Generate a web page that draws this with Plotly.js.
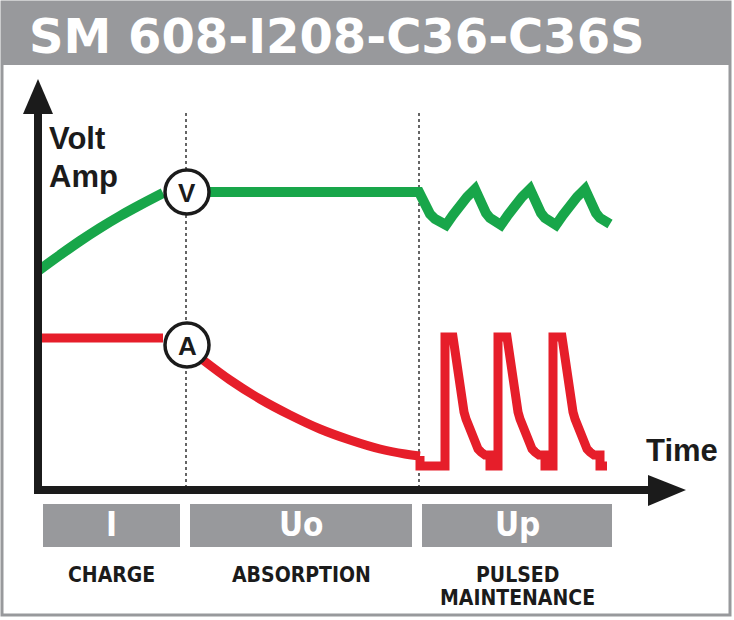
<!DOCTYPE html>
<html>
<head>
<meta charset="utf-8">
<script src="https://cdn.plot.ly/plotly-3.0.1.min.js"></script>
<style>html,body{margin:0;padding:0;background:#fff;}#chart{width:734px;height:620px;}</style>
</head>
<body>
<div id="chart"></div>
<script>
// ---- Data (diagram units: x = time position, y = level) ----
const titleText = "SM 608-I208-C36-C36S";
const phaseCodes = ["I", "Uo", "Up"];
const phaseNames = [["CHARGE"], ["ABSORPTION"], ["PULSED", "MAINTENANCE"]];
const phaseStart = [43, 190, 422];
const phaseEnd = [180, 412, 612];
const phaseBoundaries = [186, 419];

// Voltage curve (green)
const voltChargeTime = [38, 60, 80, 100, 120, 140, 163];
const voltChargeLevel = [271, 255, 241, 228, 216, 205, 193];
const voltHoldTime = [209, 419, 422, 426, 430, 435, 440, 446, 453, 460, 467, 475,
  478, 482, 486, 490, 495, 501, 508, 515, 522, 530,
  533, 537, 541, 545, 550, 556, 563, 570, 577, 585,
  588, 592, 596, 600, 605, 610];
const voltHoldLevel = [192, 192, 198, 207, 214, 219, 223, 225, 215, 205, 197, 189,
  197, 206, 213, 218, 222, 225, 215, 205, 197, 189,
  197, 206, 213, 218, 222, 225, 215, 205, 197, 189,
  197, 206, 213, 218, 221, 224];

// Current curve (red)
const ampChargeTime = [38, 163];
const ampChargeLevel = [338, 338];
const ampAbsorbTime = [203, 230, 260, 290, 320, 350, 380, 405, 420];
const ampAbsorbLevel = [360, 380, 399, 415, 429, 440, 449, 454, 456];
const ampPulseTime = [420, 420, 445, 445, 453,
  454, 456, 458, 460, 462, 464, 466, 468, 471, 474, 478, 481, 485, 490, 490, 498, 498, 507,
  508, 510, 512, 514, 516, 518, 520, 522, 525, 528, 532, 535, 539, 545, 545, 553, 553, 562,
  563, 565, 567, 569, 571, 573, 575, 577, 580, 583, 587, 590, 594, 600, 600, 607];
const ampPulseLevel = [456, 466, 466, 337, 337,
  345, 360, 378, 392, 403, 412, 419, 425, 434, 442, 449, 452, 455, 455, 466, 466, 337, 337,
  345, 360, 378, 392, 403, 412, 419, 425, 434, 442, 449, 452, 455, 455, 466, 466, 337, 337,
  345, 360, 378, 392, 403, 412, 419, 425, 434, 442, 449, 452, 455, 455, 466, 466];

const markerV = {x: 187, y: 192, label: "V"};
const markerA = {x: 187, y: 345, label: "A"};

// ---- Styles ----
const GREEN = "#18a64a";
const RED = "#e61e2a";
const GRAY = "#98999c";
const INK = "#1b1b1b";

function line(x, y, color, width, shape) {
  return {x: x, y: y, type: "scatter", mode: "lines",
    line: {color: color, width: width, shape: shape || "linear", smoothing: 1},
    hoverinfo: "skip", showlegend: false};
}
const traces = [
  line(voltChargeTime, voltChargeLevel, GREEN, 10, "spline"),
  line(voltHoldTime, voltHoldLevel, GREEN, 10),
  line(ampChargeTime, ampChargeLevel, RED, 9),
  line(ampAbsorbTime, ampAbsorbLevel, RED, 9, "spline"),
  line(ampPulseTime, ampPulseLevel, RED, 9)
];

const shapes = [];
shapes.push({type: "rect", x0: 2, x1: 730, y0: 2, y1: 615,
  line: {color: GRAY, width: 3}, fillcolor: "rgba(0,0,0,0)", layer: "below"});
shapes.push({type: "rect", x0: 2, x1: 730, y0: 2, y1: 65,
  line: {width: 0}, fillcolor: GRAY, layer: "below"});
phaseBoundaries.forEach(b => shapes.push({type: "line", x0: b, x1: b, y0: 113, y1: 490,
  line: {color: "#333", width: 1.5, dash: "dot"}, layer: "below"}));
shapes.push({type: "line", x0: 38, x1: 38, y0: 494, y1: 110, line: {color: INK, width: 8}});
shapes.push({type: "path", path: "M38,79 L23,114 L53,114 Z", fillcolor: INK, line: {width: 0}});
shapes.push({type: "line", x0: 34, x1: 650, y0: 490, y1: 490, line: {color: INK, width: 8}});
shapes.push({type: "path", path: "M686,490 L648,475 L648,506 Z", fillcolor: INK, line: {width: 0}});
[markerV, markerA].forEach(m => shapes.push({type: "circle", x0: m.x - 22, x1: m.x + 22, y0: m.y - 22, y1: m.y + 22,
  fillcolor: "#fff", line: {color: INK, width: 3.5}}));
for (let i = 0; i < phaseCodes.length; i++) {
  shapes.push({type: "rect", x0: phaseStart[i], x1: phaseEnd[i], y0: 504, y1: 547,
    fillcolor: GRAY, line: {width: 0}});
}

const CONDENSED = "DejaVu Sans Condensed, sans-serif";
const annotations = [];
annotations.push({x: 27, y: 36, text: titleText, showarrow: false, xanchor: "left", yanchor: "middle",
  font: {family: "DejaVu Sans", size: 48, color: "#fff", weight: "bold"}});
annotations.push({x: 47, y: 138, text: "<b>Volt</b>", showarrow: false, xanchor: "left", yanchor: "middle",
  font: {family: "Liberation Sans, Arial", size: 31, color: INK}});
annotations.push({x: 47, y: 176, text: "<b>Amp</b>", showarrow: false, xanchor: "left", yanchor: "middle",
  font: {family: "Liberation Sans, Arial", size: 31, color: INK}});
annotations.push({x: 644, y: 450, text: "<b>Time</b>", showarrow: false, xanchor: "left", yanchor: "middle",
  font: {family: "Liberation Sans, Arial", size: 31, color: INK}});
[markerV, markerA].forEach(m => annotations.push({x: m.x, y: m.y + 1, text: "<b>" + m.label + "</b>", showarrow: false,
  xanchor: "center", yanchor: "middle", font: {family: "Liberation Sans, Arial", size: 26, color: INK}}));
for (let i = 0; i < phaseCodes.length; i++) {
  const cx = (phaseStart[i] + phaseEnd[i]) / 2;
  annotations.push({x: cx, y: 524, text: "<b>" + phaseCodes[i] + "</b>", showarrow: false,
    xanchor: "center", yanchor: "middle",
    font: {family: CONDENSED, size: 33, color: "#fff"}});
  phaseNames[i].forEach((nm, k) => annotations.push({x: cx, y: 575 + 23 * k, text: "<b>" + nm + "</b>", showarrow: false,
    xanchor: "center", yanchor: "middle",
    font: {family: CONDENSED, size: 21, color: INK}}));
}

const layout = {
  width: 734, height: 620,
  margin: {l: 0, r: 0, t: 0, b: 0, pad: 0},
  paper_bgcolor: "#fff", plot_bgcolor: "#fff",
  xaxis: {range: [0, 734], visible: false, fixedrange: true},
  yaxis: {range: [620, 0], visible: false, fixedrange: true},
  shapes: shapes,
  annotations: annotations,
  showlegend: false
};

Plotly.newPlot("chart", traces, layout, {staticPlot: true, displayModeBar: false});
</script>
</body>
</html>
